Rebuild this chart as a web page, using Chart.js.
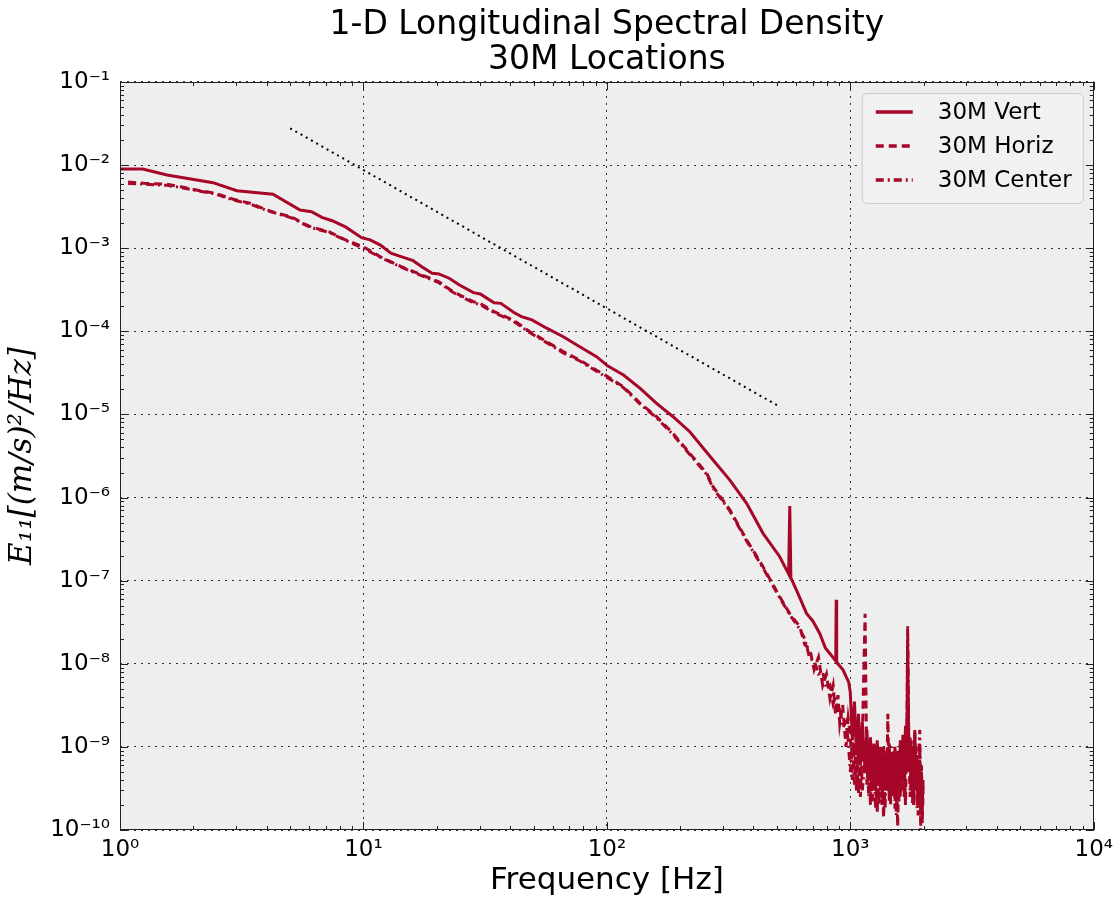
<!DOCTYPE html>
<html>
<head>
<meta charset="utf-8">
<script src="https://cdn.jsdelivr.net/npm/chart.js@4/dist/chart.umd.min.js"></script>
<style>
html, body { margin: 0; padding: 0; background: #fff; }
#wrap { width: 1119px; height: 901px; }
</style>
</head>
<body>
<div id="wrap"><canvas id="psd"></canvas></div>
<script>
// 30M Vert: smooth part (Hz, (m/s)^2/Hz)
var vertFreq = [1.0, 1.24, 1.56, 2.41, 3.02, 4.25, 5.49, 6.12, 6.75, 7.44,
    8.47, 9.82, 10.65, 11.74, 12.96, 14.28, 16.0, 17.36, 19.15, 20.4,
    22.5, 24.8, 28.3, 30.2, 34.4, 36.7, 41.5, 44.6, 49.2, 56.6,
    66.2, 77.4, 90.7, 101, 117, 137, 160, 187, 219, 273,
    320, 375, 438, 513, 558, 564, 570, 601, 661, 700,
    749, 790, 824, 860, 871, 875, 879, 900, 934, 965, 985];
var vertPsd = [8.97e-3, 8.97e-3, 7.60e-3, 6.14e-3, 4.92e-3, 4.45e-3, 2.88e-3, 2.75e-3, 2.35e-3, 2.14e-3,
    1.79e-3, 1.34e-3, 1.26e-3, 1.09e-3, 8.69e-4, 7.91e-4, 7.08e-4, 5.99e-4, 4.99e-4, 4.90e-4,
    4.35e-4, 3.61e-4, 2.92e-4, 2.81e-4, 2.21e-4, 2.17e-4, 1.68e-4, 1.50e-4, 1.37e-4, 1.09e-4,
    8.61e-5, 6.53e-5, 4.95e-5, 3.82e-5, 2.98e-5, 2.06e-5, 1.36e-5, 9.38e-6, 6.19e-6, 2.83e-6,
    1.62e-6, 8.51e-7, 3.71e-7, 1.94e-7, 1.2e-7, 7.9e-7, 1.08e-7, 7.7e-8, 4.04e-8, 3.3e-8,
    2.32e-8, 1.55e-8, 1.33e-8, 1.14e-8, 1.08e-8, 5.9e-8, 1.05e-8, 9.6e-9, 8.4e-9, 6.8e-9, 6.0e-9];

// 30M Horiz / 30M Center share the same frequencies
var lowFreq = [1.08, 1.25, 1.56, 1.82, 2.13, 2.46, 2.92, 3.42, 4.0, 4.42,
    4.84, 5.2, 5.49, 6.12, 7.21, 8.35, 9.98, 11.7, 14.3, 17.4,
    20.4, 23.3, 28.3, 30.1, 34.4, 41.2, 48.3, 56.6, 66.2, 77.4,
    90.7, 101, 117, 137, 160, 187, 219, 257, 273, 320,
    375, 438, 513, 564, 620, 650, 682, 710, 740, 770,
    798, 825, 850, 870, 890, 905, 930, 960, 980];
var horizPsd = [6.27e-3, 6.04e-3, 5.87e-3, 5.41e-3, 4.92e-3, 4.58e-3, 3.88e-3, 3.47e-3, 2.90e-3, 2.63e-3,
    2.46e-3, 2.29e-3, 2.08e-3, 1.79e-3, 1.58e-3, 1.28e-3, 1.04e-3, 7.91e-4, 5.99e-4, 4.76e-4,
    3.95e-4, 3.00e-4, 2.27e-4, 2.17e-4, 1.72e-4, 1.37e-4, 9.9e-5, 7.5e-5, 5.7e-5, 4.5e-5,
    3.4e-5, 2.84e-5, 2.15e-5, 1.36e-5, 9.4e-6, 5.9e-6, 3.4e-6, 1.96e-6, 1.35e-6, 7.1e-7,
    3.1e-7, 1.47e-7, 6.4e-8, 4.0e-8, 2.8e-8, 1.7e-8, 1.5e-8, 8.5e-9, 1.2e-8, 5.5e-9,
    7.5e-9, 3.8e-9, 5.5e-9, 2.4e-9, 4.2e-9, 1.9e-9, 3.2e-9, 1.0e-9, 2.2e-9];
var centerPsd = [6.0e-3, 5.9e-3, 5.7e-3, 5.3e-3, 4.85e-3, 4.5e-3, 3.8e-3, 3.4e-3, 2.85e-3, 2.6e-3,
    2.42e-3, 2.25e-3, 2.05e-3, 1.76e-3, 1.55e-3, 1.26e-3, 1.0e-3, 7.8e-4, 5.9e-4, 4.65e-4,
    3.85e-4, 2.95e-4, 2.2e-4, 2.1e-4, 1.68e-4, 1.33e-4, 9.6e-5, 7.3e-5, 5.5e-5, 4.4e-5,
    3.3e-5, 2.75e-5, 2.1e-5, 1.33e-5, 9.1e-6, 5.7e-6, 3.3e-6, 1.9e-6, 1.3e-6, 6.9e-7,
    3.0e-7, 1.42e-7, 6.2e-8, 3.9e-8, 2.6e-8, 2.0e-8, 1.15e-8, 1.1e-8, 7.5e-9, 8.0e-9,
    5.0e-9, 5.5e-9, 3.3e-9, 4.0e-9, 2.6e-9, 3.0e-9, 1.7e-9, 2.0e-9, 1.2e-9];

// noisy tail above 1 kHz, all three series
var noiseFreq = [1000, 1020, 1040, 1060, 1080, 1100, 1120, 1150, 1170, 1190,
    1210, 1230, 1250, 1270, 1290, 1310, 1330, 1350, 1370, 1390,
    1410, 1426, 1445, 1465, 1485, 1505, 1525, 1545, 1565, 1585,
    1605, 1625, 1645, 1665, 1685, 1705, 1720, 1740, 1760, 1780,
    1800, 1820, 1840, 1860, 1880, 1900, 1929, 1945, 1960, 1975, 1990];
var vertNoise = [4.5e-9, 1.2e-9, 3.5e-9, 8e-10, 2.5e-9, 6e-10, 2.0e-9, 5e-10, 1.6e-9, 4e-10,
    1.3e-9, 3.5e-10, 1.1e-9, 3e-10, 1.2e-9, 4e-10, 9e-10, 2.5e-10, 1.0e-9, 3e-10,
    8e-10, 3e-10, 1.1e-9, 2.5e-10, 8e-10, 3e-10, 1.0e-9, 2.2e-10, 9e-10, 3e-10,
    1.2e-9, 4e-10, 1.4e-9, 3.5e-10, 1.8e-9, 5e-10, 2.0e-8, 7e-10, 1.3e-9, 3e-10,
    1.0e-9, 2.5e-10, 1.6e-9, 3e-10, 8e-10, 2.0e-10, 7e-10, 1.5e-10, 5e-10, 2e-10, 4e-10];
var horizNoise = [1.4e-9, 4.0e-10, 1.1e-9, 3.0e-10, 9.0e-10, 2.5e-10, 1.2e-9, 4.0e-8, 3.5e-10, 8.0e-10,
    2.0e-10, 1.0e-9, 3.0e-10, 7.0e-10, 1.6e-10, 9.0e-10, 2.5e-10, 6.0e-10, 1.4e-10, 8.0e-10,
    3.0e-10, 2.5e-9, 2.2e-10, 7.5e-10, 3.0e-10, 9.0e-10, 1.8e-10, 6.5e-10, 1.1e-10, 8.0e-10,
    2.5e-10, 1.1e-9, 3.0e-10, 9.0e-10, 2.0e-10, 1.3e-9, 4.0e-9, 5.0e-10, 1.0e-9, 3.0e-10,
    8.0e-10, 2.0e-10, 1.5e-9, 3.5e-10, 7.0e-10, 1.5e-10, 1.0e-9, 2.0e-10, 6.0e-10, 1.2e-10, 4.0e-10];
var centerNoise = [5e-10, 1.2e-9, 3.5e-10, 1.0e-9, 2.8e-10, 1.3e-9, 3.0e-10, 7e-10, 1.1e-9, 2.5e-10,
    9e-10, 2.2e-10, 8e-10, 1.8e-10, 7e-10, 2.0e-10, 1.0e-9, 2.0e-10, 6e-10, 1.8e-10,
    9e-10, 3.5e-10, 8e-10, 2.0e-10, 1.0e-9, 2.5e-10, 7e-10, 1.5e-10, 6e-10, 2.2e-10,
    9e-10, 3.0e-10, 1.2e-9, 2.5e-10, 1.5e-9, 6e-10, 2.9e-8, 9e-10, 2.5e-10, 1.2e-9,
    2.0e-10, 9e-10, 4e-10, 1.0e-9, 1.8e-10, 6e-10, 1.6e-9, 1.0e-10, 4e-10, 1.5e-10, 3e-10];

// -5/3 reference slope
var slopeFreq = [5, 500];
var slopeVal = [2.77e-2, 1.29e-5];

var seriesLabels = ['30M Vert', '30M Horiz', '30M Center'];
var titleLines = ['1-D Longitudinal Spectral Density', '30M Locations'];

var RED = '#A60628';
var SUP = {'-': '\u207B', '0': '\u2070', '1': '\u00B9', '2': '\u00B2', '3': '\u00B3',
    '4': '\u2074', '5': '\u2075', '6': '\u2076', '7': '\u2077', '8': '\u2078', '9': '\u2079'};

function toXY(xs, ys) {
    return xs.map(function (x, i) { return {x: x, y: ys[i]}; });
}
function isDecade(v) {
    if (!(v > 0)) return false;
    var e = Math.log10(v);
    return Math.abs(e - Math.round(e)) < 1e-6;
}
function logLabel(v) {
    if (!isDecade(v)) return '';
    var e = String(Math.round(Math.log10(v)));
    return '10' + e.split('').map(function (c) { return SUP[c]; }).join('');
}
// 1..9 x 10^e for every decade, matplotlib style
function logTicks(e0, e1) {
    var out = [];
    for (var e = e0; e <= e1; e++) {
        for (var k = 1; k <= 9; k++) {
            if (e === e1 && k > 1) break;
            out.push({value: parseFloat(k + 'e' + e)});
        }
    }
    return out;
}

Chart.defaults.font.family = 'DejaVu Sans';
Chart.defaults.color = '#000';

var plotBackground = {
    id: 'plotBackground',
    beforeDraw: function (chart) {
        var ctx = chart.ctx, a = chart.chartArea;
        ctx.save();
        ctx.fillStyle = '#fff';
        ctx.fillRect(0, 0, chart.width, chart.height);
        ctx.fillStyle = '#EEEEEE';
        ctx.fillRect(a.left, a.top, a.right - a.left, a.bottom - a.top);
        ctx.restore();
    }
};

var frameTicks = {
    id: 'frameTicks',
    afterDraw: function (chart) {
        var ctx = chart.ctx, a = chart.chartArea;
        var xs = chart.scales.x, ys = chart.scales.y;
        ctx.save();
        ctx.strokeStyle = '#222';
        ctx.lineWidth = 1;
        ctx.beginPath();
        xs.ticks.forEach(function (t) {
            var px = Math.round(xs.getPixelForValue(t.value)) + 0.5;
            var len = isDecade(t.value) ? 8 : 4;
            ctx.moveTo(px, a.bottom); ctx.lineTo(px, a.bottom - len);
            ctx.moveTo(px, a.top); ctx.lineTo(px, a.top + len);
        });
        ys.ticks.forEach(function (t) {
            var py = Math.round(ys.getPixelForValue(t.value)) + 0.5;
            var len = isDecade(t.value) ? 8 : 4;
            ctx.moveTo(a.left, py); ctx.lineTo(a.left + len, py);
            ctx.moveTo(a.right, py); ctx.lineTo(a.right - len, py);
        });
        ctx.stroke();
        ctx.strokeRect(Math.round(a.left) + 0.5, Math.round(a.top) + 0.5,
            Math.round(a.right - a.left) - 1, Math.round(a.bottom - a.top) - 1);
        ctx.restore();
    }
};

var boxLegend = {
    id: 'boxLegend',
    afterDraw: function (chart) {
        var ctx = chart.ctx, a = chart.chartArea;
        var items = chart.data.datasets.filter(function (d) { return d.inLegend !== false; });
        var w = 221, h = 110;
        var x0 = a.right - 11 - w, y0 = a.top + 11;
        ctx.save();
        ctx.beginPath();
        ctx.roundRect(x0 + 0.5, y0 + 0.5, w, h, 5);
        ctx.fillStyle = '#F1F1F1';
        ctx.fill();
        ctx.strokeStyle = '#CCCCCC';
        ctx.lineWidth = 1;
        ctx.stroke();
        ctx.font = '23px "DejaVu Sans"';
        ctx.textBaseline = 'middle';
        ctx.fillStyle = '#000';
        items.forEach(function (d, i) {
            var y = y0 + 19 + i * 34;
            ctx.beginPath();
            ctx.setLineDash(d.borderDash || []);
            ctx.strokeStyle = d.borderColor;
            ctx.lineWidth = 3.5;
            ctx.moveTo(x0 + 14, y);
            ctx.lineTo(x0 + 51, y);
            ctx.stroke();
            ctx.setLineDash([]);
            ctx.fillText(d.label, x0 + 76, y + 1);
        });
        ctx.restore();
    }
};

var axisCommon = function (e0, e1) {
    return {
        type: 'logarithmic',
        min: parseFloat('1e' + e0),
        max: parseFloat('1e' + e1),
        afterBuildTicks: function (scale) { scale.ticks = logTicks(e0, e1); },
        ticks: {
            autoSkip: false,
            maxRotation: 0,
            font: {size: 23},
            color: '#000',
            callback: function (v) { return logLabel(v); }
        },
        grid: {
            drawTicks: false,
            lineWidth: 1,
            color: function (c) {
                return c.tick && isDecade(c.tick.value) ? 'rgba(0,0,0,0.8)' : 'rgba(0,0,0,0)';
            }
        },
        border: {display: false, dash: [2, 5]}
    };
};

var xAxis = axisCommon(0, 4);
xAxis.ticks.padding = 6;
xAxis.afterFit = function (scale) { scale.height = 71; };
xAxis.title = {display: true, text: 'Frequency [Hz]', font: {size: 31}, color: '#000',
    padding: {top: 0, bottom: 1}};

var yAxis = axisCommon(-10, -1);
yAxis.ticks.padding = 10;
yAxis.afterFit = function (scale) { scale.width = 120; };
yAxis.title = {display: true, text: 'E\u2081\u2081[(m/s)\u00B2/Hz]',
    font: {family: 'DejaVu Serif', style: 'italic', size: 31}, color: '#000',
    padding: {top: 4, bottom: 0}};

var chart_psd = new Chart(document.getElementById('psd'), {
    type: 'line',
    data: {
        datasets: [
            {
                label: seriesLabels[0],
                data: toXY(vertFreq.concat(noiseFreq), vertPsd.concat(vertNoise)),
                borderColor: RED,
                borderWidth: 3,
                pointRadius: 0,
                order: 3
            },
            {
                label: seriesLabels[1],
                data: toXY(lowFreq.concat(noiseFreq), horizPsd.concat(horizNoise)),
                borderColor: RED,
                borderWidth: 3,
                borderDash: [8, 5],
                pointRadius: 0,
                order: 2
            },
            {
                label: seriesLabels[2],
                data: toXY(lowFreq.concat(noiseFreq), centerPsd.concat(centerNoise)),
                borderColor: RED,
                borderWidth: 3,
                borderDash: [8, 4, 2, 4],
                pointRadius: 0,
                order: 1
            },
            {
                label: '-5/3',
                inLegend: false,
                data: toXY(slopeFreq, slopeVal),
                borderColor: '#000',
                borderWidth: 2,
                borderDash: [2, 4],
                pointRadius: 0,
                order: 0
            }
        ]
    },
    options: {
        animation: false,
        responsive: true,
        maintainAspectRatio: false,
        layout: {padding: {left: 0, right: 25, top: 0, bottom: 0}},
        plugins: {
            legend: {display: false},
            tooltip: {enabled: false},
            title: {
                display: true,
                fullSize: false,
                text: titleLines,
                color: '#000',
                font: {size: 33, weight: 'normal', lineHeight: 1.06},
                padding: {top: 8, bottom: 4}
            }
        },
        scales: {
            x: xAxis,
            y: yAxis
        }
    },
    plugins: [plotBackground, frameTicks, boxLegend]
});
</script>
</body>
</html>
